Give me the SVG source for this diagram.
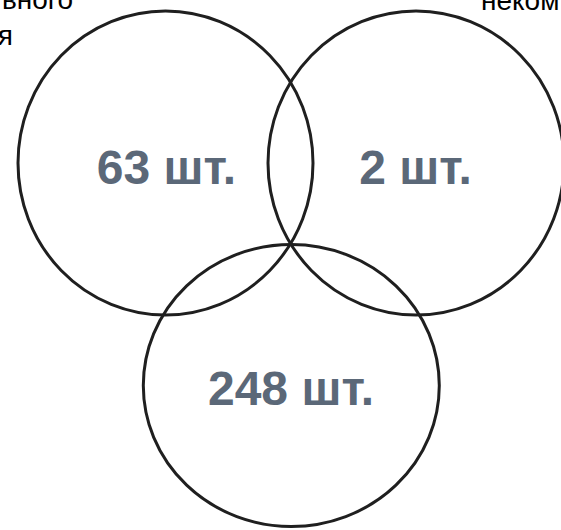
<svg xmlns="http://www.w3.org/2000/svg" width="561" height="530" viewBox="0 0 561 530">
<style>
.c{fill:none;stroke:#1f1f1f;stroke-width:3}
.n{font-family:"Liberation Sans",Arial,sans-serif;font-weight:bold;font-size:48px;fill:#5b6878;text-anchor:middle}
.t{font-family:"Liberation Sans",Arial,sans-serif;font-size:28px;fill:#000}
</style>
<rect width="561" height="530" fill="#fff"/>
<g id="label-left"><text class="t" x="73" y="9" text-anchor="end">вного</text><text class="t" x="13" y="45" text-anchor="end">я</text></g>
<g id="label-right"><text class="t" x="481" y="10">неком</text></g>
<g id="set-left"><ellipse class="c" cx="165.5" cy="163" rx="147.5" ry="152"/><text class="n" x="166.5" y="184">63 шт.</text></g>
<g id="set-right"><ellipse class="c" cx="416" cy="163" rx="148" ry="152"/><text class="n" x="415.5" y="184">2 шт.</text></g>
<g id="set-bottom"><ellipse class="c" cx="291.3" cy="385.5" rx="148" ry="141"/><text class="n" x="291" y="405">248 шт.</text></g>
<g id="connectors"></g>
</svg>
